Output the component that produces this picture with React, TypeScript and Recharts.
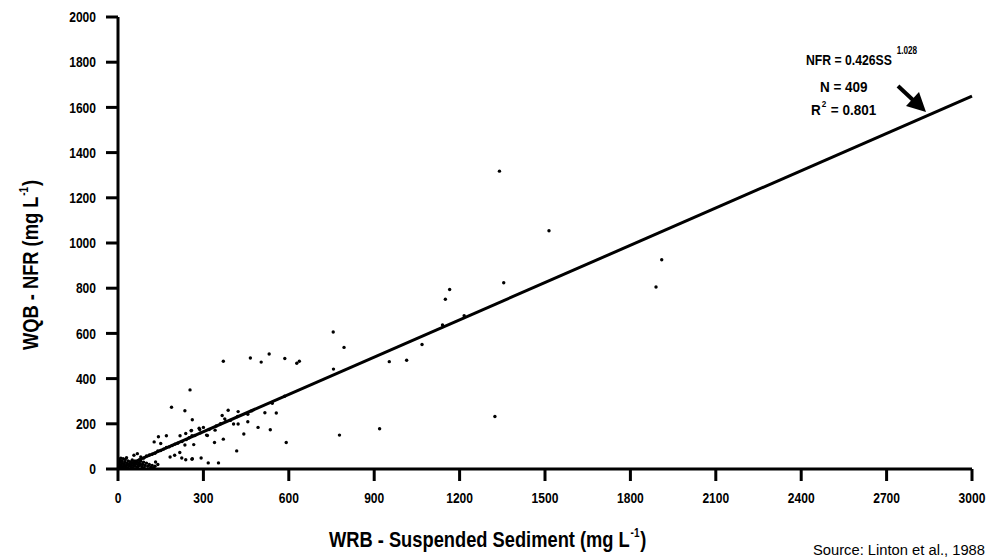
import { Scatter, ScatterChart, XAxis, YAxis } from 'recharts'

const FONT = "'Liberation Sans', Arial, sans-serif"

const xTicks = [0, 300, 600, 900, 1200, 1500, 1800, 2100, 2400, 2700, 3000]
const yTicks = [0, 200, 400, 600, 800, 1000, 1200, 1400, 1600, 1800, 2000]

// [suspended sediment, NFR] pairs
const nearOrigin: [number, number][] = [
  [2, 5], [4, 12], [5, 20], [6, 30], [8, 40], [10, 8], [12, 18], [14, 25], [15, 35], [18, 3],
  [20, 12], [22, 22], [24, 30], [25, 42], [28, 8], [30, 16], [32, 26], [35, 36], [36, 4], [38, 14],
  [40, 22], [42, 32], [45, 10], [46, 20], [48, 28], [50, 40], [52, 6], [54, 16], [56, 24], [58, 34],
  [60, 12], [62, 22], [65, 30], [68, 8], [70, 18], [72, 28], [75, 14], [78, 22], [80, 34], [84, 10],
  [86, 20], [90, 30], [92, 6], [95, 16], [100, 26], [105, 12], [110, 20], [115, 8], [120, 16], [125, 5],
  [130, 12], [140, 20], [3, 45], [10, 48], [18, 46], [30, 50], [56, 61], [68, 68], [80, 53], [132, 31],
]

const alongFit: [number, number][] = [
  [60, 35], [75, 40], [90, 48], [100, 58], [110, 62], [120, 65], [130, 70], [140, 80], [150, 82],
  [160, 88], [170, 95], [180, 98], [190, 104], [200, 110], [210, 114], [225, 122], [240, 130],
  [250, 138], [270, 148], [290, 160], [320, 175], [345, 190], [360, 200], [375, 222], [395, 215],
  [420, 232], [470, 258], [542, 291], [585, 322],
]

const lowRange: [number, number][] = [
  [188, 273], [142, 143], [170, 147], [127, 120], [150, 113], [218, 147], [235, 106], [257, 169],
  [285, 180], [300, 184], [311, 150], [183, 53], [199, 61], [217, 73], [238, 41], [260, 43],
  [292, 49], [317, 27], [353, 27], [253, 350], [235, 258], [261, 218], [366, 237], [387, 260],
  [422, 254], [456, 242], [516, 249], [556, 248], [379, 212], [406, 199], [422, 199], [456, 209],
  [492, 184], [535, 174], [442, 155], [591, 117], [370, 132], [339, 117], [417, 80], [258, 171],
  [287, 175], [314, 148], [341, 172], [266, 108], [238, 157], [260, 147], [224, 49], [261, 46],
  [370, 477], [465, 491], [503, 473], [531, 509], [586, 489], [628, 468],
]

const highRange: [number, number][] = [
  [1340, 1318], [1514, 1054], [1910, 926], [1890, 805], [1355, 824], [1165, 794], [1150, 751],
  [1216, 678], [1140, 637], [1068, 551], [756, 606], [794, 538], [757, 442], [953, 475],
  [1014, 481], [778, 150], [919, 178], [1324, 232], [637, 477],
]

// ends of the fitted curve as drawn
const fitEnds: [number, number][] = [[0, 0], [3000, 1650]]

const toRows = (pairs: [number, number][]) => pairs.map(([ss, nfr]) => ({ ss, nfr }))

const samples = toRows([...nearOrigin, ...alongFit, ...lowRange, ...highRange])
const fitLine = toRows(fitEnds)

const Dot = (props: any) => <circle cx={props.cx} cy={props.cy} r={1.7} fill="#000" />
const NoDot = () => <g />

const axisStyle = { stroke: '#000', strokeWidth: 3 }

// the original uses a condensed face, so squeeze the labels to its widths
const narrow = (s: string) => s.length * 6.7

const XTick = ({ x, y, payload }: any) => {
  const s = String(payload.value)
  return (
    <text x={x} y={y} dy="0.71em" textAnchor="middle" fontFamily={FONT} fontWeight={700} fontSize={15}
      fill="#000" textLength={narrow(s)} lengthAdjust="spacingAndGlyphs">
      {s}
    </text>
  )
}

const YTick = ({ x, y, payload }: any) => {
  const s = String(payload.value)
  return (
    <text x={x} y={y} dy="0.35em" textAnchor="end" fontFamily={FONT} fontWeight={700} fontSize={15}
      fill="#000" textLength={narrow(s)} lengthAdjust="spacingAndGlyphs">
      {s}
    </text>
  )
}

export default function App() {
  return (
    <div style={{ position: 'fixed', left: 0, top: 0, width: 992, height: 558, overflow: 'hidden', background: '#fff' }}>
      <ScatterChart width={992} height={600} margin={{ top: 17, right: 20, bottom: 0, left: 0 }}>
        <XAxis
          dataKey="ss"
          type="number"
          domain={[0, 3000]}
          ticks={xTicks}
          interval={0}
          height={131}
          tickSize={12}
          tickMargin={11}
          axisLine={axisStyle}
          tickLine={axisStyle}
          tick={<XTick />}
        />
        <YAxis
          dataKey="nfr"
          type="number"
          domain={[0, 2000]}
          ticks={yTicks}
          interval={0}
          width={118}
          tickSize={12}
          tickMargin={10}
          axisLine={axisStyle}
          tickLine={axisStyle}
          tick={<YTick />}
        />
        <Scatter data={samples} shape={Dot} isAnimationActive={false} />
        <Scatter
          data={fitLine}
          line={{ stroke: '#000', strokeWidth: 3 }}
          shape={NoDot}
          isAnimationActive={false}
        />
      </ScatterChart>
      <svg width={992} height={558} style={{ position: 'absolute', left: 0, top: 0, pointerEvents: 'none' }}>
        <g fontFamily={FONT} fontWeight={700} fill="#000">
          <g transform="translate(806 65) scale(0.815 1)">
            <text x={0} y={0} fontSize={15}>
              NFR = 0.426SS<tspan dx={6} dy={-11} fontSize={10}>1.028</tspan>
            </text>
          </g>
          <g transform="translate(820 92) scale(0.9 1)">
            <text x={0} y={0} fontSize={15}>N = 409</text>
          </g>
          <g transform="translate(811 115) scale(0.9 1)">
            <text x={0} y={0} fontSize={15}>
              R<tspan dx={1} dy={-8} fontSize={9}>2</tspan><tspan dx={1} dy={8}> = 0.801</tspan>
            </text>
          </g>
          <line x1={898} y1={86} x2={913} y2={100} stroke="#000" strokeWidth={4} />
          <polygon points="926,112 906,106 919,92" fill="#000" />
          <g transform="translate(329 547) scale(0.832 1)">
            <text x={0} y={0} fontSize={22}>
              WRB - Suspended Sediment (mg L<tspan dx={1} dy={-10} fontSize={12}>-1</tspan><tspan dx={1} dy={10}>)</tspan>
            </text>
          </g>
          <g transform="translate(38 350) rotate(-90) scale(0.832 1)">
            <text x={0} y={0} fontSize={22}>
              WQB - NFR (mg L<tspan dx={1} dy={-10} fontSize={12}>-1</tspan><tspan dx={1} dy={10}>)</tspan>
            </text>
          </g>
        </g>
        <text x={813} y={555} fontFamily={FONT} fontSize={14} fill="#000" textLength={172} lengthAdjust="spacingAndGlyphs">
          Source: Linton et al., 1988
        </text>
      </svg>
    </div>
  )
}
